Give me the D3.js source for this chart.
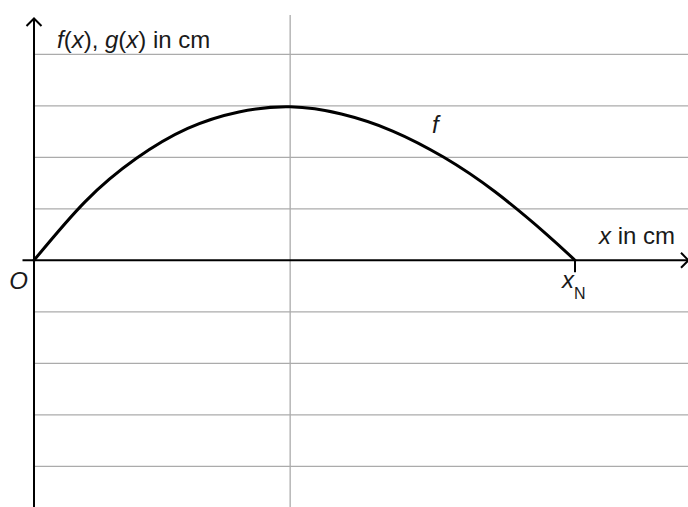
<!DOCTYPE html>
<html>
<head>
<meta charset="utf-8">
<script src="https://cdn.jsdelivr.net/npm/d3@7"></script>
<style>
html,body{margin:0;padding:0;background:#fff;}
svg{display:block;}
text{font-family:"Liberation Sans",Arial,Helvetica,sans-serif;fill:#1a1a1a;}
</style>
</head>
<body>
<svg id="chart" width="688" height="507"></svg>
<script>
// Data (x in grid units, y in grid units)
const xValues = [0, 1, 2, 3, 4, 5, 6, 7, 8, 9, 10, 10.56];
const fValues = [0, 1.14, 1.98, 2.56, 2.88, 2.98, 2.84, 2.51, 2.0, 1.33, 0.51, 0];
const gridY = [-4, -3, -2, -1, 1, 2, 3, 4];
const gridX = [5];
const xN = 10.56;
const labels = {yAxis: "in cm", xAxis: "in cm", origin: "O", curve: "f"};

const svg = d3.select("#chart");
const W = 688, H = 507;
const x = d3.scaleLinear().domain([0, xN]).range([34, 575]);
const y = d3.scaleLinear().domain([-4, 4]).range([466.3, 54.3]);

// grid
svg.append("g").selectAll("line").data(gridY).join("line")
  .attr("x1", x(0)).attr("x2", W)
  .attr("y1", d => y(d)).attr("y2", d => y(d))
  .attr("stroke", "#ababab").attr("stroke-width", 1.3);
svg.append("g").selectAll("line").data(gridX).join("line")
  .attr("x1", d => x(d)).attr("x2", d => x(d))
  .attr("y1", 15).attr("y2", H)
  .attr("stroke", "#ababab").attr("stroke-width", 1.3);

// axes
const ax = svg.append("g").attr("stroke", "#000").attr("stroke-width", 2).attr("fill", "none");
ax.append("line").attr("x1", x(0)).attr("x2", x(0)).attr("y1", 18.5).attr("y2", H);
ax.append("path").attr("d", `M${x(0)-7.5},${26} L${x(0)},${18.5} L${x(0)+7.5},${26}`);
ax.append("line").attr("x1", 22.5).attr("x2", 688).attr("y1", y(0)).attr("y2", y(0));
ax.append("path").attr("d", `M${681},${y(0)-7.5} L${688.5},${y(0)} L${681},${y(0)+7.5}`);
ax.append("line").attr("x1", x(xN)).attr("x2", x(xN)).attr("y1", y(0)).attr("y2", y(0) + 12);

// curve
const pts = xValues.map((v, i) => [v, fValues[i]]);
svg.append("path").datum(pts)
  .attr("d", d3.line().x(d => x(d[0])).y(d => y(d[1])).curve(d3.curveNatural))
  .attr("fill", "none").attr("stroke", "#000").attr("stroke-width", 3)
  .attr("stroke-linecap", "round");

// labels
const t1 = svg.append("text").attr("x", 57).attr("y", 48).attr("font-size", 24);
t1.append("tspan").attr("font-style", "italic").text("f");
t1.append("tspan").text("(");
t1.append("tspan").attr("font-style", "italic").text("x");
t1.append("tspan").text("), ");
t1.append("tspan").attr("font-style", "italic").text("g");
t1.append("tspan").text("(");
t1.append("tspan").attr("font-style", "italic").text("x");
t1.append("tspan").text(") " + labels.yAxis);

const t2 = svg.append("text").attr("x", 599).attr("y", 244).attr("font-size", 24);
t2.append("tspan").attr("font-style", "italic").text("x");
t2.append("tspan").text(" " + labels.xAxis);

svg.append("text").attr("x", 28).attr("y", 289).attr("text-anchor", "end")
  .attr("font-size", 24).attr("font-style", "italic").text(labels.origin);

svg.append("text").attr("x", 432).attr("y", 133).attr("font-size", 24)
  .attr("font-style", "italic").text(labels.curve);

const t3 = svg.append("text").attr("x", 562).attr("y", 288).attr("font-size", 24);
t3.append("tspan").attr("font-style", "italic").text("x");
t3.append("tspan").attr("font-size", 16).attr("dy", 11).text("N");
</script>
</body>
</html>
